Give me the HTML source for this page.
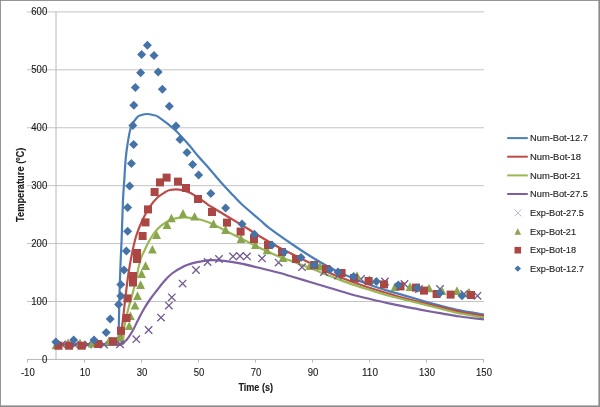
<!DOCTYPE html><html><head><meta charset="utf-8"><title>Temperature vs Time</title>
<style>html,body{margin:0;padding:0;background:#fff}body{width:600px;height:407px;overflow:hidden}svg{display:block}text{font-family:"Liberation Sans",sans-serif;fill:#1a1a1a;stroke:#1a1a1a;stroke-width:0.12px}</style></head><body>
<svg width="600" height="407" viewBox="0 0 600 407">
<rect x="0" y="0" width="600" height="407" fill="#fff"/>
<line x1="27" x2="484" y1="301.52" y2="301.52" stroke="#c4c4c4" stroke-width="1"/>
<line x1="27" x2="484" y1="243.60" y2="243.60" stroke="#c4c4c4" stroke-width="1"/>
<line x1="27" x2="484" y1="185.67" y2="185.67" stroke="#c4c4c4" stroke-width="1"/>
<line x1="27" x2="484" y1="127.75" y2="127.75" stroke="#c4c4c4" stroke-width="1"/>
<line x1="27" x2="484" y1="69.82" y2="69.82" stroke="#c4c4c4" stroke-width="1"/>
<line x1="27" x2="484" y1="11.90" y2="11.90" stroke="#c4c4c4" stroke-width="1"/>
<line x1="56" x2="56" y1="11.9" y2="359.45" stroke="#b8b8b8" stroke-width="1"/>
<line x1="27" x2="484" y1="359.45" y2="359.45" stroke="#b8b8b8" stroke-width="1"/>
<line x1="27.50" x2="27.50" y1="359.45" y2="362.6" stroke="#b8b8b8" stroke-width="1"/>
<line x1="84.50" x2="84.50" y1="359.45" y2="362.6" stroke="#b8b8b8" stroke-width="1"/>
<line x1="141.50" x2="141.50" y1="359.45" y2="362.6" stroke="#b8b8b8" stroke-width="1"/>
<line x1="198.50" x2="198.50" y1="359.45" y2="362.6" stroke="#b8b8b8" stroke-width="1"/>
<line x1="255.50" x2="255.50" y1="359.45" y2="362.6" stroke="#b8b8b8" stroke-width="1"/>
<line x1="312.50" x2="312.50" y1="359.45" y2="362.6" stroke="#b8b8b8" stroke-width="1"/>
<line x1="369.50" x2="369.50" y1="359.45" y2="362.6" stroke="#b8b8b8" stroke-width="1"/>
<line x1="426.50" x2="426.50" y1="359.45" y2="362.6" stroke="#b8b8b8" stroke-width="1"/>
<line x1="483.50" x2="483.50" y1="359.45" y2="362.6" stroke="#b8b8b8" stroke-width="1"/>
<text x="47.2" y="362.65" font-size="10.0" text-anchor="end" textLength="5.3" lengthAdjust="spacingAndGlyphs">0</text>
<text x="47.2" y="304.72" font-size="10.0" text-anchor="end" textLength="15.9" lengthAdjust="spacingAndGlyphs">100</text>
<text x="47.2" y="246.80" font-size="10.0" text-anchor="end" textLength="15.9" lengthAdjust="spacingAndGlyphs">200</text>
<text x="47.2" y="188.87" font-size="10.0" text-anchor="end" textLength="15.9" lengthAdjust="spacingAndGlyphs">300</text>
<text x="47.2" y="130.95" font-size="10.0" text-anchor="end" textLength="15.9" lengthAdjust="spacingAndGlyphs">400</text>
<text x="47.2" y="73.02" font-size="10.0" text-anchor="end" textLength="15.9" lengthAdjust="spacingAndGlyphs">500</text>
<text x="47.2" y="15.10" font-size="10.0" text-anchor="end" textLength="15.9" lengthAdjust="spacingAndGlyphs">600</text>
<text x="27.80" y="375.9" font-size="10.0" text-anchor="middle" textLength="13.8" lengthAdjust="spacingAndGlyphs">-10</text>
<text x="85.00" y="375.9" font-size="10.0" text-anchor="middle" textLength="10.6" lengthAdjust="spacingAndGlyphs">10</text>
<text x="142.00" y="375.9" font-size="10.0" text-anchor="middle" textLength="10.6" lengthAdjust="spacingAndGlyphs">30</text>
<text x="199.00" y="375.9" font-size="10.0" text-anchor="middle" textLength="10.6" lengthAdjust="spacingAndGlyphs">50</text>
<text x="256.00" y="375.9" font-size="10.0" text-anchor="middle" textLength="10.6" lengthAdjust="spacingAndGlyphs">70</text>
<text x="313.00" y="375.9" font-size="10.0" text-anchor="middle" textLength="10.6" lengthAdjust="spacingAndGlyphs">90</text>
<text x="370.00" y="375.9" font-size="10.0" text-anchor="middle" textLength="15.9" lengthAdjust="spacingAndGlyphs">110</text>
<text x="427.00" y="375.9" font-size="10.0" text-anchor="middle" textLength="15.9" lengthAdjust="spacingAndGlyphs">130</text>
<text x="484.00" y="375.9" font-size="10.0" text-anchor="middle" textLength="15.9" lengthAdjust="spacingAndGlyphs">150</text>
<text x="255.7" y="390.9" font-size="10.6" font-weight="bold" text-anchor="middle" textLength="34.6" lengthAdjust="spacingAndGlyphs">Time (s)</text>
<text transform="translate(23.7 184.8) rotate(-90)" font-size="10.6" font-weight="bold" text-anchor="middle" textLength="74.4" lengthAdjust="spacingAndGlyphs">Temperature (ºC)</text>
<path d="M56.00 344.50 C61.67 344.50 80.00 344.52 90.00 344.50 C100.00 344.48 111.27 344.98 116.00 344.40 C120.73 343.82 117.93 343.90 118.40 341.00 C118.87 338.10 118.60 335.50 118.80 327.00 C119.00 318.50 119.30 300.83 119.60 290.00 C119.90 279.17 120.27 270.33 120.60 262.00 C120.93 253.67 121.20 250.33 121.60 240.00 C122.00 229.67 122.55 210.00 123.00 200.00 C123.45 190.00 123.87 186.67 124.30 180.00 C124.73 173.33 125.08 165.83 125.60 160.00 C126.12 154.17 126.50 150.50 127.40 145.00 C128.30 139.50 129.40 131.60 131.00 127.00 C132.60 122.40 135.25 119.40 137.00 117.40 C138.75 115.40 139.83 115.57 141.50 115.00 C143.17 114.43 145.08 114.00 147.00 114.00 C148.92 114.00 151.00 114.43 153.00 115.00 C155.00 115.57 155.33 114.90 159.00 117.40 C162.67 119.90 170.00 125.40 175.00 130.00 C180.00 134.60 185.17 140.67 189.00 145.00 C192.83 149.33 194.50 151.92 198.00 156.00 C201.50 160.08 205.92 164.83 210.00 169.50 C214.08 174.17 218.67 179.70 222.50 184.00 C226.33 188.30 229.75 191.88 233.00 195.30 C236.25 198.72 237.50 200.38 242.00 204.50 C246.50 208.62 255.33 215.98 260.00 220.00 C264.67 224.02 264.33 224.35 270.00 228.60 C275.67 232.85 287.33 240.93 294.00 245.50 C300.67 250.07 304.00 252.32 310.00 256.00 C316.00 259.68 323.33 264.10 330.00 267.60 C336.67 271.10 343.33 274.10 350.00 277.00 C356.67 279.90 363.33 282.60 370.00 285.00 C376.67 287.40 383.33 289.40 390.00 291.40 C396.67 293.40 405.00 295.57 410.00 297.00 C415.00 298.43 415.00 298.58 420.00 300.00 C425.00 301.42 433.33 303.77 440.00 305.50 C446.67 307.23 452.67 308.90 460.00 310.40 C467.33 311.90 480.00 313.82 484.00 314.50" fill="none" stroke="#4a7ebb" stroke-width="2.2" stroke-linecap="butt" stroke-linejoin="round"/>
<path d="M56.00 344.60 C61.67 344.60 79.50 344.62 90.00 344.60 C100.50 344.58 113.78 345.27 119.00 344.50 C124.22 343.73 120.78 342.92 121.30 340.00 C121.82 337.08 121.65 332.00 122.10 327.00 C122.55 322.00 123.30 316.17 124.00 310.00 C124.70 303.83 125.47 296.67 126.30 290.00 C127.13 283.33 127.92 276.67 129.00 270.00 C130.07 263.33 131.50 255.83 132.75 250.00 C134.00 244.17 134.88 240.00 136.50 235.00 C138.12 230.00 140.25 224.75 142.50 220.00 C144.75 215.25 147.50 210.25 150.00 206.50 C152.50 202.75 155.00 199.87 157.50 197.50 C160.00 195.13 162.92 193.55 165.00 192.30 C167.08 191.05 167.67 190.45 170.00 190.00 C172.33 189.55 175.75 189.18 179.00 189.60 C182.25 190.02 186.00 190.93 189.50 192.50 C193.00 194.07 197.00 197.03 200.00 199.00 C203.00 200.97 205.00 202.63 207.50 204.30 C210.00 205.97 212.50 207.47 215.00 209.00 C217.50 210.53 220.00 212.00 222.50 213.50 C225.00 215.00 227.08 216.25 230.00 218.00 C232.92 219.75 236.75 222.03 240.00 224.00 C243.25 225.97 246.17 227.72 249.50 229.80 C252.83 231.88 254.92 233.47 260.00 236.50 C265.08 239.53 275.00 245.25 280.00 248.00 C285.00 250.75 285.00 250.50 290.00 253.00 C295.00 255.50 303.33 259.67 310.00 263.00 C316.67 266.33 323.33 270.00 330.00 273.00 C336.67 276.00 343.33 278.50 350.00 281.00 C356.67 283.50 363.33 285.83 370.00 288.00 C376.67 290.17 383.33 292.07 390.00 294.00 C396.67 295.93 405.00 298.27 410.00 299.60 C415.00 300.93 415.00 300.77 420.00 302.00 C425.00 303.23 433.33 305.37 440.00 307.00 C446.67 308.63 452.67 310.30 460.00 311.80 C467.33 313.30 480.00 315.30 484.00 316.00" fill="none" stroke="#be4b48" stroke-width="2.2" stroke-linecap="butt" stroke-linejoin="round"/>
<path d="M56.00 344.60 C61.67 344.60 79.17 344.63 90.00 344.60 C100.83 344.57 115.47 345.33 121.00 344.40 C126.53 343.47 122.65 341.90 123.20 339.00 C123.75 336.10 123.42 332.17 124.30 327.00 C125.18 321.83 127.05 313.83 128.50 308.00 C129.95 302.17 131.75 296.67 133.00 292.00 C134.25 287.33 134.78 285.33 136.00 280.00 C137.22 274.67 138.84 265.00 140.30 260.00 C141.76 255.00 143.13 253.42 144.75 250.00 C146.37 246.58 147.88 243.00 150.00 239.50 C152.12 236.00 155.00 231.75 157.50 229.00 C160.00 226.25 162.50 224.63 165.00 223.00 C167.50 221.37 170.17 220.07 172.50 219.20 C174.83 218.33 176.42 218.07 179.00 217.80 C181.58 217.53 184.50 217.32 188.00 217.60 C191.50 217.88 196.50 218.68 200.00 219.50 C203.50 220.32 205.75 221.17 209.00 222.50 C212.25 223.83 216.67 226.08 219.50 227.50 C222.33 228.92 222.58 229.25 226.00 231.00 C229.42 232.75 234.33 235.17 240.00 238.00 C245.67 240.83 253.33 244.83 260.00 248.00 C266.67 251.17 275.00 254.92 280.00 257.00 C285.00 259.08 285.00 258.67 290.00 260.50 C295.00 262.33 303.33 265.42 310.00 268.00 C316.67 270.58 323.33 273.40 330.00 276.00 C336.67 278.60 343.33 281.27 350.00 283.60 C356.67 285.93 363.33 287.93 370.00 290.00 C376.67 292.07 383.33 294.17 390.00 296.00 C396.67 297.83 405.00 299.75 410.00 301.00 C415.00 302.25 415.00 302.25 420.00 303.50 C425.00 304.75 433.33 306.83 440.00 308.50 C446.67 310.17 452.67 312.00 460.00 313.50 C467.33 315.00 480.00 316.83 484.00 317.50" fill="none" stroke="#98b954" stroke-width="2.2" stroke-linecap="butt" stroke-linejoin="round"/>
<path d="M56.00 344.70 C61.67 344.70 80.00 344.70 90.00 344.70 C100.00 344.70 110.90 344.73 116.00 344.70 C121.10 344.67 118.85 345.28 120.60 344.50 C122.35 343.72 124.53 342.20 126.50 340.00 C128.47 337.80 130.43 334.72 132.40 331.30 C134.37 327.88 136.33 323.30 138.30 319.50 C140.27 315.70 142.25 311.83 144.20 308.50 C146.15 305.17 147.90 302.50 150.00 299.50 C152.10 296.50 154.47 293.50 156.80 290.50 C159.13 287.50 161.47 284.33 164.00 281.50 C166.53 278.67 168.67 276.05 172.00 273.50 C175.33 270.95 180.67 267.88 184.00 266.20 C187.33 264.52 189.33 264.17 192.00 263.40 C194.67 262.63 196.67 262.13 200.00 261.60 C203.33 261.07 207.67 260.27 212.00 260.20 C216.33 260.13 221.33 260.67 226.00 261.20 C230.67 261.73 234.33 262.27 240.00 263.40 C245.67 264.53 253.33 266.40 260.00 268.00 C266.67 269.60 275.00 271.67 280.00 273.00 C285.00 274.33 285.00 274.50 290.00 276.00 C295.00 277.50 303.33 280.00 310.00 282.00 C316.67 284.00 323.33 286.00 330.00 288.00 C336.67 290.00 343.33 292.17 350.00 294.00 C356.67 295.83 363.33 297.40 370.00 299.00 C376.67 300.60 383.33 302.17 390.00 303.60 C396.67 305.03 405.00 306.60 410.00 307.60 C415.00 308.60 415.00 308.67 420.00 309.60 C425.00 310.53 433.33 312.05 440.00 313.20 C446.67 314.35 452.67 315.45 460.00 316.50 C467.33 317.55 480.00 319.00 484.00 319.50" fill="none" stroke="#7d60a0" stroke-width="2.2" stroke-linecap="butt" stroke-linejoin="round"/>
<g><path d="M58.30 340.80L65.70 348.20M58.30 348.20L65.70 340.80" stroke="#71588f" stroke-width="1.3" fill="none"/><path d="M71.30 341.30L78.70 348.70M71.30 348.70L78.70 341.30" stroke="#71588f" stroke-width="1.3" fill="none"/><path d="M84.30 340.80L91.70 348.20M84.30 348.20L91.70 340.80" stroke="#71588f" stroke-width="1.3" fill="none"/><path d="M100.30 340.80L107.70 348.20M100.30 348.20L107.70 340.80" stroke="#71588f" stroke-width="1.3" fill="none"/><path d="M116.30 340.60L123.70 348.00M116.30 348.00L123.70 340.60" stroke="#71588f" stroke-width="1.3" fill="none"/><path d="M132.60 335.50L140.00 342.90M132.60 342.90L140.00 335.50" stroke="#71588f" stroke-width="1.3" fill="none"/><path d="M144.90 326.30L152.30 333.70M144.90 333.70L152.30 326.30" stroke="#71588f" stroke-width="1.3" fill="none"/><path d="M157.30 313.90L164.70 321.30M157.30 321.30L164.70 313.90" stroke="#71588f" stroke-width="1.3" fill="none"/><path d="M165.20 301.90L172.60 309.30M165.20 309.30L172.60 301.90" stroke="#71588f" stroke-width="1.3" fill="none"/><path d="M168.10 293.60L175.50 301.00M168.10 301.00L175.50 293.60" stroke="#71588f" stroke-width="1.3" fill="none"/><path d="M178.90 279.90L186.30 287.30M178.90 287.30L186.30 279.90" stroke="#71588f" stroke-width="1.3" fill="none"/><path d="M192.30 266.30L199.70 273.70M192.30 273.70L199.70 266.30" stroke="#71588f" stroke-width="1.3" fill="none"/><path d="M203.90 258.30L211.30 265.70M203.90 265.70L211.30 258.30" stroke="#71588f" stroke-width="1.3" fill="none"/><path d="M215.30 255.30L222.70 262.70M215.30 262.70L222.70 255.30" stroke="#71588f" stroke-width="1.3" fill="none"/><path d="M229.30 252.70L236.70 260.10M229.30 260.10L236.70 252.70" stroke="#71588f" stroke-width="1.3" fill="none"/><path d="M236.30 252.30L243.70 259.70M236.30 259.70L243.70 252.30" stroke="#71588f" stroke-width="1.3" fill="none"/><path d="M243.30 252.70L250.70 260.10M243.30 260.10L250.70 252.70" stroke="#71588f" stroke-width="1.3" fill="none"/><path d="M258.30 254.70L265.70 262.10M258.30 262.10L265.70 254.70" stroke="#71588f" stroke-width="1.3" fill="none"/><path d="M274.90 258.90L282.30 266.30M274.90 266.30L282.30 258.90" stroke="#71588f" stroke-width="1.3" fill="none"/><path d="M298.30 263.50L305.70 270.90M298.30 270.90L305.70 263.50" stroke="#71588f" stroke-width="1.3" fill="none"/><path d="M320.30 268.30L327.70 275.70M320.30 275.70L327.70 268.30" stroke="#71588f" stroke-width="1.3" fill="none"/><path d="M334.30 271.90L341.70 279.30M334.30 279.30L341.70 271.90" stroke="#71588f" stroke-width="1.3" fill="none"/><path d="M357.30 275.30L364.70 282.70M357.30 282.70L364.70 275.30" stroke="#71588f" stroke-width="1.3" fill="none"/><path d="M381.30 277.80L388.70 285.20M381.30 285.20L388.70 277.80" stroke="#71588f" stroke-width="1.3" fill="none"/><path d="M400.80 280.30L408.20 287.70M400.80 287.70L408.20 280.30" stroke="#71588f" stroke-width="1.3" fill="none"/><path d="M415.30 285.30L422.70 292.70M415.30 292.70L422.70 285.30" stroke="#71588f" stroke-width="1.3" fill="none"/><path d="M436.30 285.30L443.70 292.70M436.30 292.70L443.70 285.30" stroke="#71588f" stroke-width="1.3" fill="none"/><path d="M460.30 290.30L467.70 297.70M460.30 297.70L467.70 290.30" stroke="#71588f" stroke-width="1.3" fill="none"/><path d="M473.80 292.10L481.20 299.50M473.80 299.50L481.20 292.10" stroke="#71588f" stroke-width="1.3" fill="none"/></g>
<g><path d="M56.00 340.59L60.40 349.22L51.60 349.22Z" fill="#89a54e"/><path d="M68.00 338.59L72.40 347.22L63.60 347.22Z" fill="#89a54e"/><path d="M80.00 338.59L84.40 347.22L75.60 347.22Z" fill="#89a54e"/><path d="M92.00 338.99L96.40 347.62L87.60 347.62Z" fill="#89a54e"/><path d="M109.00 336.29L113.40 344.92L104.60 344.92Z" fill="#89a54e"/><path d="M119.60 332.29L124.00 340.92L115.20 340.92Z" fill="#89a54e"/><path d="M129.20 321.49L133.60 330.12L124.80 330.12Z" fill="#89a54e"/><path d="M130.40 311.49L134.80 320.12L126.00 320.12Z" fill="#89a54e"/><path d="M135.00 300.89L139.40 309.52L130.60 309.52Z" fill="#89a54e"/><path d="M137.50 291.29L141.90 299.92L133.10 299.92Z" fill="#89a54e"/><path d="M140.60 280.29L145.00 288.92L136.20 288.92Z" fill="#89a54e"/><path d="M141.60 269.29L146.00 277.92L137.20 277.92Z" fill="#89a54e"/><path d="M145.60 261.29L150.00 269.92L141.20 269.92Z" fill="#89a54e"/><path d="M152.40 244.89L156.80 253.52L148.00 253.52Z" fill="#89a54e"/><path d="M156.60 230.49L161.00 239.12L152.20 239.12Z" fill="#89a54e"/><path d="M167.00 220.29L171.40 228.92L162.60 228.92Z" fill="#89a54e"/><path d="M171.40 213.69L175.80 222.32L167.00 222.32Z" fill="#89a54e"/><path d="M183.00 208.89L187.40 217.52L178.60 217.52Z" fill="#89a54e"/><path d="M194.60 211.89L199.00 220.52L190.20 220.52Z" fill="#89a54e"/><path d="M213.50 219.29L217.90 227.92L209.10 227.92Z" fill="#89a54e"/><path d="M225.60 225.29L230.00 233.92L221.20 233.92Z" fill="#89a54e"/><path d="M241.00 234.29L245.40 242.92L236.60 242.92Z" fill="#89a54e"/><path d="M255.40 240.29L259.80 248.92L251.00 248.92Z" fill="#89a54e"/><path d="M267.00 245.69L271.40 254.32L262.60 254.32Z" fill="#89a54e"/><path d="M283.00 253.29L287.40 261.92L278.60 261.92Z" fill="#89a54e"/><path d="M310.00 261.29L314.40 269.92L305.60 269.92Z" fill="#89a54e"/><path d="M320.00 261.69L324.40 270.32L315.60 270.32Z" fill="#89a54e"/><path d="M357.00 271.29L361.40 279.92L352.60 279.92Z" fill="#89a54e"/><path d="M369.40 275.29L373.80 283.92L365.00 283.92Z" fill="#89a54e"/><path d="M395.00 282.29L399.40 290.92L390.60 290.92Z" fill="#89a54e"/><path d="M410.00 282.29L414.40 290.92L405.60 290.92Z" fill="#89a54e"/><path d="M429.00 283.69L433.40 292.32L424.60 292.32Z" fill="#89a54e"/><path d="M442.00 286.29L446.40 294.92L437.60 294.92Z" fill="#89a54e"/><path d="M457.00 286.29L461.40 294.92L452.60 294.92Z" fill="#89a54e"/><path d="M469.00 287.69L473.40 296.32L464.60 296.32Z" fill="#89a54e"/></g>
<g><rect x="54.50" y="341.70" width="8.00" height="8.00" fill="#aa4643"/><rect x="65.10" y="341.70" width="8.00" height="8.00" fill="#aa4643"/><rect x="77.70" y="341.70" width="8.00" height="8.00" fill="#aa4643"/><rect x="94.20" y="340.00" width="8.00" height="8.00" fill="#aa4643"/><rect x="109.00" y="337.20" width="8.00" height="8.00" fill="#aa4643"/><rect x="117.00" y="326.80" width="8.00" height="8.00" fill="#aa4643"/><rect x="122.60" y="314.00" width="8.00" height="8.00" fill="#aa4643"/><rect x="123.50" y="294.40" width="8.00" height="8.00" fill="#aa4643"/><rect x="129.00" y="278.50" width="8.00" height="8.00" fill="#aa4643"/><rect x="129.00" y="272.00" width="8.00" height="8.00" fill="#aa4643"/><rect x="133.00" y="255.00" width="8.00" height="8.00" fill="#aa4643"/><rect x="133.00" y="249.00" width="8.00" height="8.00" fill="#aa4643"/><rect x="138.60" y="232.00" width="8.00" height="8.00" fill="#aa4643"/><rect x="141.50" y="218.40" width="8.00" height="8.00" fill="#aa4643"/><rect x="144.00" y="205.40" width="8.00" height="8.00" fill="#aa4643"/><rect x="150.60" y="188.00" width="8.00" height="8.00" fill="#aa4643"/><rect x="156.00" y="178.40" width="8.00" height="8.00" fill="#aa4643"/><rect x="162.60" y="173.60" width="8.00" height="8.00" fill="#aa4643"/><rect x="174.00" y="177.60" width="8.00" height="8.00" fill="#aa4643"/><rect x="182.00" y="184.00" width="8.00" height="8.00" fill="#aa4643"/><rect x="194.00" y="195.00" width="8.00" height="8.00" fill="#aa4643"/><rect x="208.00" y="208.00" width="8.00" height="8.00" fill="#aa4643"/><rect x="223.00" y="218.60" width="8.00" height="8.00" fill="#aa4643"/><rect x="236.60" y="227.60" width="8.00" height="8.00" fill="#aa4643"/><rect x="250.00" y="235.00" width="8.00" height="8.00" fill="#aa4643"/><rect x="264.00" y="241.00" width="8.00" height="8.00" fill="#aa4643"/><rect x="278.00" y="248.00" width="8.00" height="8.00" fill="#aa4643"/><rect x="292.00" y="255.00" width="8.00" height="8.00" fill="#aa4643"/><rect x="310.20" y="261.00" width="8.00" height="8.00" fill="#aa4643"/><rect x="322.00" y="265.00" width="8.00" height="8.00" fill="#aa4643"/><rect x="337.60" y="269.00" width="8.00" height="8.00" fill="#aa4643"/><rect x="350.00" y="274.00" width="8.00" height="8.00" fill="#aa4643"/><rect x="364.60" y="277.00" width="8.00" height="8.00" fill="#aa4643"/><rect x="380.00" y="280.40" width="8.00" height="8.00" fill="#aa4643"/><rect x="396.50" y="282.40" width="8.00" height="8.00" fill="#aa4643"/><rect x="412.00" y="283.60" width="8.00" height="8.00" fill="#aa4643"/><rect x="420.00" y="286.60" width="8.00" height="8.00" fill="#aa4643"/><rect x="432.60" y="290.00" width="8.00" height="8.00" fill="#aa4643"/><rect x="446.60" y="290.60" width="8.00" height="8.00" fill="#aa4643"/><rect x="467.00" y="291.00" width="8.00" height="8.00" fill="#aa4643"/></g>
<g><path d="M55.90 337.50L60.40 342.00L55.90 346.50L51.40 342.00Z" fill="#4572a7"/><path d="M73.60 335.50L78.10 340.00L73.60 344.50L69.10 340.00Z" fill="#4572a7"/><path d="M94.00 335.50L98.50 340.00L94.00 344.50L89.50 340.00Z" fill="#4572a7"/><path d="M106.20 328.00L110.70 332.50L106.20 337.00L101.70 332.50Z" fill="#4572a7"/><path d="M110.20 314.50L114.70 319.00L110.20 323.50L105.70 319.00Z" fill="#4572a7"/><path d="M118.60 300.00L123.10 304.50L118.60 309.00L114.10 304.50Z" fill="#4572a7"/><path d="M120.80 291.50L125.30 296.00L120.80 300.50L116.30 296.00Z" fill="#4572a7"/><path d="M120.80 280.00L125.30 284.50L120.80 289.00L116.30 284.50Z" fill="#4572a7"/><path d="M124.00 265.50L128.50 270.00L124.00 274.50L119.50 270.00Z" fill="#4572a7"/><path d="M126.40 246.50L130.90 251.00L126.40 255.50L121.90 251.00Z" fill="#4572a7"/><path d="M127.60 226.70L132.10 231.20L127.60 235.70L123.10 231.20Z" fill="#4572a7"/><path d="M127.60 202.90L132.10 207.40L127.60 211.90L123.10 207.40Z" fill="#4572a7"/><path d="M129.60 181.50L134.10 186.00L129.60 190.50L125.10 186.00Z" fill="#4572a7"/><path d="M131.40 159.00L135.90 163.50L131.40 168.00L126.90 163.50Z" fill="#4572a7"/><path d="M133.60 139.90L138.10 144.40L133.60 148.90L129.10 144.40Z" fill="#4572a7"/><path d="M132.80 121.10L137.30 125.60L132.80 130.10L128.30 125.60Z" fill="#4572a7"/><path d="M133.80 100.70L138.30 105.20L133.80 109.70L129.30 105.20Z" fill="#4572a7"/><path d="M135.40 83.10L139.90 87.60L135.40 92.10L130.90 87.60Z" fill="#4572a7"/><path d="M140.60 68.30L145.10 72.80L140.60 77.30L136.10 72.80Z" fill="#4572a7"/><path d="M141.60 49.90L146.10 54.40L141.60 58.90L137.10 54.40Z" fill="#4572a7"/><path d="M147.40 40.70L151.90 45.20L147.40 49.70L142.90 45.20Z" fill="#4572a7"/><path d="M154.00 51.10L158.50 55.60L154.00 60.10L149.50 55.60Z" fill="#4572a7"/><path d="M158.20 67.50L162.70 72.00L158.20 76.50L153.70 72.00Z" fill="#4572a7"/><path d="M162.40 84.70L166.90 89.20L162.40 93.70L157.90 89.20Z" fill="#4572a7"/><path d="M169.30 101.70L173.80 106.20L169.30 110.70L164.80 106.20Z" fill="#4572a7"/><path d="M176.00 121.50L180.50 126.00L176.00 130.50L171.50 126.00Z" fill="#4572a7"/><path d="M180.00 134.90L184.50 139.40L180.00 143.90L175.50 139.40Z" fill="#4572a7"/><path d="M187.00 147.90L191.50 152.40L187.00 156.90L182.50 152.40Z" fill="#4572a7"/><path d="M192.60 159.90L197.10 164.40L192.60 168.90L188.10 164.40Z" fill="#4572a7"/><path d="M198.60 170.60L203.10 175.10L198.60 179.60L194.10 175.10Z" fill="#4572a7"/><path d="M210.80 189.00L215.30 193.50L210.80 198.00L206.30 193.50Z" fill="#4572a7"/><path d="M225.60 203.50L230.10 208.00L225.60 212.50L221.10 208.00Z" fill="#4572a7"/><path d="M242.00 219.50L246.50 224.00L242.00 228.50L237.50 224.00Z" fill="#4572a7"/><path d="M254.40 229.70L258.90 234.20L254.40 238.70L249.90 234.20Z" fill="#4572a7"/><path d="M272.00 240.50L276.50 245.00L272.00 249.50L267.50 245.00Z" fill="#4572a7"/><path d="M284.20 247.70L288.70 252.20L284.20 256.70L279.70 252.20Z" fill="#4572a7"/><path d="M301.00 252.90L305.50 257.40L301.00 261.90L296.50 257.40Z" fill="#4572a7"/><path d="M314.40 260.50L318.90 265.00L314.40 269.50L309.90 265.00Z" fill="#4572a7"/><path d="M330.00 264.90L334.50 269.40L330.00 273.90L325.50 269.40Z" fill="#4572a7"/><path d="M338.00 267.50L342.50 272.00L338.00 276.50L333.50 272.00Z" fill="#4572a7"/><path d="M353.60 271.90L358.10 276.40L353.60 280.90L349.10 276.40Z" fill="#4572a7"/><path d="M376.40 277.10L380.90 281.60L376.40 286.10L371.90 281.60Z" fill="#4572a7"/><path d="M398.30 280.50L402.80 285.00L398.30 289.50L393.80 285.00Z" fill="#4572a7"/><path d="M417.40 283.50L421.90 288.00L417.40 292.50L412.90 288.00Z" fill="#4572a7"/><path d="M440.00 288.50L444.50 293.00L440.00 297.50L435.50 293.00Z" fill="#4572a7"/><path d="M462.00 291.20L466.50 295.70L462.00 300.20L457.50 295.70Z" fill="#4572a7"/></g>
<line x1="507.2" x2="527.8" y1="138.10" y2="138.10" stroke="#4a7ebb" stroke-width="2"/>
<text x="530.0" y="141.20" font-size="9.9" textLength="57.9" lengthAdjust="spacingAndGlyphs">Num-Bot-12.7</text>
<line x1="507.2" x2="527.8" y1="156.70" y2="156.70" stroke="#be4b48" stroke-width="2"/>
<text x="530.0" y="159.80" font-size="9.9" textLength="51.0" lengthAdjust="spacingAndGlyphs">Num-Bot-18</text>
<line x1="507.2" x2="527.8" y1="175.40" y2="175.40" stroke="#98b954" stroke-width="2"/>
<text x="530.0" y="178.50" font-size="9.9" textLength="50.8" lengthAdjust="spacingAndGlyphs">Num-Bot-21</text>
<line x1="507.2" x2="527.8" y1="194.00" y2="194.00" stroke="#7d60a0" stroke-width="2"/>
<text x="530.0" y="197.10" font-size="9.9" textLength="57.9" lengthAdjust="spacingAndGlyphs">Num-Bot-27.5</text>
<path d="M514.50 209.50L521.30 216.30M514.50 216.30L521.30 209.50" stroke="#b0a0cc" stroke-width="0.8" fill="none"/>
<path d="M517.80 228.27L521.10 234.74L514.50 234.74Z" fill="#89a54e"/>
<rect x="514.50" y="246.90" width="6.60" height="6.60" fill="#aa4643"/>
<path d="M517.80 265.40L521.00 268.60L517.80 271.80L514.60 268.60Z" fill="#4572a7"/>
<text x="530.0" y="216.30" font-size="9.9" textLength="54.0" lengthAdjust="spacingAndGlyphs">Exp-Bot-27.5</text>
<text x="530.0" y="234.80" font-size="9.9" textLength="46.0" lengthAdjust="spacingAndGlyphs">Exp-Bot-21</text>
<text x="530.0" y="253.20" font-size="9.9" textLength="46.0" lengthAdjust="spacingAndGlyphs">Exp-Bot-18</text>
<text x="530.0" y="271.60" font-size="9.9" textLength="54.0" lengthAdjust="spacingAndGlyphs">Exp-Bot-12.7</text>
<rect x="0" y="0" width="600" height="0.9" fill="#8a8a8a"/>
<rect x="0" y="0" width="0.9" height="407" fill="#8a8a8a"/>
<rect x="598.4" y="0" width="1.6" height="407" fill="#8a8a8a"/>
<rect x="0" y="405.4" width="600" height="1.6" fill="#8a8a8a"/>
</svg></body></html>
